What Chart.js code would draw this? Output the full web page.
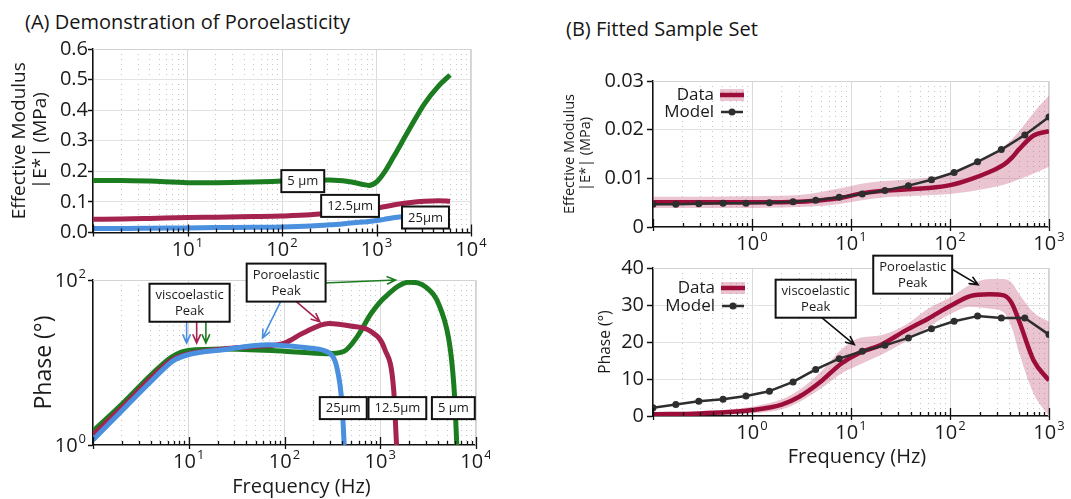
<!DOCTYPE html>
<html>
<head>
<meta charset="utf-8">
<script src="https://cdn.jsdelivr.net/npm/chart.js@4.4.1/dist/chart.umd.min.js"></script>
<style>
  body { margin: 0; background: #fff; font-family: "Open Sans", sans-serif; }
  #wrap { position: relative; width: 1071px; height: 499px; overflow: hidden; }
  canvas { position: absolute; }
  .head { position: absolute; font-size: 20px; line-height: 1; color: #151515; white-space: nowrap; }
</style>
</head>
<body>
<div id="wrap">
  <div class="head" style="left:25px; top:12px">(A) Demonstration of Poroelasticity</div>
  <div class="head" style="left:566px; top:19px">(B) Fitted Sample Set</div>
  <canvas id="modA" width="490" height="262" style="left:0; top:0"></canvas>
  <canvas id="phaseA" width="490" height="249" style="left:0; top:250px"></canvas>
  <canvas id="modB" width="531" height="262" style="left:540px; top:0"></canvas>
  <canvas id="phaseB" width="531" height="254" style="left:540px; top:245px"></canvas>
</div>
<script>
// ---- panel A : modulus vs frequency for three pore sizes
const freqModA    = [1, 2, 4, 10, 20, 50, 100, 200, 320, 500, 700, 830, 1000, 1200, 1500, 2200, 3200, 4500, 6000];
const modulus5um  = [0.170, 0.170, 0.168, 0.163, 0.163, 0.165, 0.168, 0.171, 0.172, 0.167, 0.158, 0.154, 0.165, 0.195, 0.245, 0.335, 0.420, 0.478, 0.515];
const modulus12um = [0.043, 0.044, 0.046, 0.049, 0.050, 0.052, 0.054, 0.058, 0.064, 0.070, 0.075, 0.077, 0.080, 0.084, 0.090, 0.097, 0.102, 0.104, 0.102];
const modulus25um = [0.013, 0.013, 0.014, 0.015, 0.016, 0.017, 0.018, 0.021, 0.025, 0.030, 0.034, 0.036, 0.039, 0.043, 0.048, 0.054, 0.060, 0.065, 0.068];

// ---- panel A : phase (log axis)
const freqPhase5um  = [1, 2.1, 4.1, 6.8, 10, 23, 100, 275, 420, 575, 800, 1120, 2000, 3000, 4200, 5400, 6000, 6300];
const phase5um      = [1.47, 3.3, 7.2, 11.9, 14.0, 14.6, 13.7, 12.8, 13.7, 20.6, 39, 62, 94, 82, 47, 14.3, 3.6, 1];
const freqPhase12um = [1, 2.1, 4.1, 6.8, 10, 23, 52, 100, 155, 290, 490, 800, 1120, 1380, 1480];
const phase12um     = [1.32, 3.0, 6.6, 10.9, 12.8, 14.6, 15.7, 17.2, 22.6, 29.8, 27.7, 23.7, 14.3, 4.75, 1];
const freqPhase25um = [1, 2.1, 4.1, 6.8, 10, 23, 68, 100, 182, 300, 350, 400, 420];
const phase25um     = [1.15, 2.75, 6.0, 10.4, 12.5, 14.3, 16.4, 16.0, 15.0, 12.8, 9, 3, 1];

// ---- panel B : fitted sample
const freqModel    = [0.1, 0.17, 0.29, 0.51, 0.87, 1.5, 2.6, 4.4, 7.6, 13, 22, 38, 65, 110, 190, 330, 570, 1000];
const modelModulus = [0.0047, 0.0047, 0.0048, 0.0049, 0.0049, 0.0050, 0.0052, 0.0055, 0.0061, 0.0068, 0.0075, 0.0085, 0.0097, 0.0112, 0.0134, 0.0159, 0.0189, 0.0226];
const modelPhase   = [2.2, 3.1, 4.0, 4.5, 5.4, 6.7, 9.2, 12.6, 15.5, 17.5, 19.1, 21.1, 23.6, 25.6, 27.0, 26.5, 26.5, 22.0];

const freqData      = [0.1, 0.3, 1, 2, 3, 5, 8, 12, 20, 35, 60, 100, 160, 250, 350, 420, 500, 700, 1000];
const dataModulus   = [0.0051, 0.0051, 0.0051, 0.0051, 0.0052, 0.0055, 0.0060, 0.0068, 0.0074, 0.0077, 0.0080, 0.0086, 0.0098, 0.0113, 0.0128, 0.0142, 0.0160, 0.0188, 0.0197];
const dataModulusHi = [0.0062, 0.0062, 0.0063, 0.0064, 0.0066, 0.0072, 0.0080, 0.0088, 0.0094, 0.0097, 0.0101, 0.0110, 0.0125, 0.0145, 0.0165, 0.0180, 0.0197, 0.0235, 0.0270];
const dataModulusLo = [0.0039, 0.0039, 0.0039, 0.0040, 0.0041, 0.0043, 0.0048, 0.0054, 0.0060, 0.0063, 0.0065, 0.0068, 0.0073, 0.0080, 0.0087, 0.0092, 0.0098, 0.0110, 0.0124];
const dataPhase     = [0.45, 0.7, 1.6, 3.1, 5.2, 9.4, 14.2, 17.0, 19.2, 23.0, 26.3, 29.7, 32.4, 32.9, 32.6, 30.5, 25.6, 15.0, 9.6];
const dataPhaseHi   = [1.0, 1.3, 2.5, 4.5, 7.0, 12.0, 18.0, 21.0, 21.8, 24.5, 29.0, 32.0, 35.5, 37.0, 37.0, 36.0, 33.0, 28.0, 25.5];
const dataPhaseLo   = [0, 0.2, 0.7, 1.8, 3.8, 7.5, 11.5, 13.8, 16.5, 20.0, 24.0, 27.5, 29.5, 29.0, 28.0, 24.0, 17.0, 6.0, 0];

// decade labels (exponents) shown on the axes
const xExpA = [1, 2, 3, 4];
const xExpB = [0, 1, 2, 3];
const yExpPhaseA = [0, 2];

const FONT = '"Open Sans", sans-serif';
const INK = '#1a1a1a';
const GREEN = '#1b7d1f', CRIMSON = '#a5234f', BLUE = '#4a90df';
const MAROON = '#9c0d3a', MODEL = '#2e2e2e', BAND = 'rgba(190,70,110,0.32)';

Chart.defaults.font.family = FONT;
Chart.defaults.color = INK;

const pts = (xs, ys) => xs.map((x, i) => ({x: x, y: ys[i]}));
const isDecade = v => Math.abs(Math.log10(v) - Math.round(Math.log10(v))) < 1e-6;
const mant = v => v / Math.pow(10, Math.floor(Math.log10(v) + 1e-9));
const isWhole = m => Math.abs(m - Math.round(m)) < 1e-6;

function logGridColor(ctx) {
  if (!ctx.tick) return 'rgba(0,0,0,0)';
  const v = ctx.tick.value;
  if (isDecade(v)) return '#dadada';
  return isWhole(mant(v)) ? '#c4c4c4' : 'rgba(0,0,0,0)';
}
function logGridDash(ctx) {
  if (!ctx.tick) return [];
  return isDecade(ctx.tick.value) ? [] : [1, 4];
}

function curve(xs, ys, color, width) {
  return {
    data: pts(xs, ys), borderColor: color, borderWidth: width,
    pointRadius: 0, fill: false, cubicInterpolationMode: 'monotone',
    borderCapStyle: 'butt', borderJoinStyle: 'round'
  };
}

function drawPow(c, exp, x, y, align) {
  c.save();
  c.fillStyle = INK;
  c.textAlign = 'left';
  c.textBaseline = 'alphabetic';
  c.font = '20px ' + FONT;
  const wb = c.measureText('10').width;
  c.font = '13px ' + FONT;
  const ws = c.measureText(String(exp)).width;
  const w = wb + ws + 1;
  const x0 = align === 'right' ? x - w : x - w / 2;
  c.font = '20px ' + FONT;
  c.fillText('10', x0, y + 7);
  c.font = '13px ' + FONT;
  c.fillText(String(exp), x0 + wb + 1, y - 2);
  c.restore();
}

function drawArrow(c, x1, y1, x2, y2, color) {
  const ang = Math.atan2(y2 - y1, x2 - x1), L = 9, spread = 0.42;
  c.save();
  c.strokeStyle = color;
  c.lineWidth = 1.6;
  c.lineCap = 'round';
  c.beginPath();
  c.moveTo(x1, y1);
  c.lineTo(x2, y2);
  c.moveTo(x2 - L * Math.cos(ang - spread), y2 - L * Math.sin(ang - spread));
  c.lineTo(x2, y2);
  c.lineTo(x2 - L * Math.cos(ang + spread), y2 - L * Math.sin(ang + spread));
  c.stroke();
  c.restore();
}

function drawBox(c, cx, cy, lines) {
  c.save();
  c.font = '13px ' + FONT;
  const tw = Math.max(...lines.map(s => c.measureText(s).width));
  const w = tw + 12, h = lines.length * 16 + 6;
  c.fillStyle = '#fff';
  c.fillRect(cx - w / 2, cy - h / 2, w, h);
  c.strokeStyle = '#111';
  c.lineWidth = 2;
  c.strokeRect(cx - w / 2, cy - h / 2, w, h);
  c.fillStyle = INK;
  c.textAlign = 'center';
  c.textBaseline = 'middle';
  lines.forEach((s, i) => c.fillText(s, cx, cy - (lines.length - 1) * 8 + i * 16 + 0.5));
  c.restore();
}

function drawLegend(c, a, lg) {
  const xr = a.left + lg.dx;
  const y1 = a.top + lg.dy1, y2 = a.top + lg.dy2;
  c.save();
  c.font = '17px ' + FONT;
  c.fillStyle = INK;
  c.textAlign = 'right';
  c.textBaseline = 'middle';
  c.fillText('Data', xr, y1);
  c.fillText('Model', xr, y2);
  c.fillStyle = BAND;
  c.fillRect(xr + 6, y1 - 6, 24, 12);
  c.strokeStyle = MAROON;
  c.lineWidth = 4.5;
  c.beginPath(); c.moveTo(xr + 6, y1); c.lineTo(xr + 30, y1); c.stroke();
  c.strokeStyle = MODEL;
  c.lineWidth = 2.5;
  c.beginPath(); c.moveTo(xr + 7, y2); c.lineTo(xr + 29, y2); c.stroke();
  c.fillStyle = MODEL;
  c.beginPath(); c.arc(xr + 18, y2, 3.5, 0, Math.PI * 2); c.fill();
  c.restore();
}

const panelDecor = {
  id: 'panelDecor',
  beforeDatasetsDraw(chart) {
    const c = chart.ctx, a = chart.chartArea;
    c.save();
    c.strokeStyle = '#d2d2d2';
    c.lineWidth = 1;
    c.beginPath();
    c.moveTo(a.left, a.top + 0.5);
    c.lineTo(a.right - 0.5, a.top + 0.5);
    c.lineTo(a.right - 0.5, a.bottom);
    c.stroke();
    c.restore();
  },
  afterDatasetsDraw(chart, args, opts) {
    const c = chart.ctx, sx = chart.scales.x, sy = chart.scales.y;
    (opts.arrows || []).forEach(ar => drawArrow(c,
      sx.getPixelForValue(ar.from[0]), sy.getPixelForValue(ar.from[1]),
      sx.getPixelForValue(ar.to[0]), sy.getPixelForValue(ar.to[1]), ar.color));
    (opts.boxes || []).forEach(b => drawBox(c, sx.getPixelForValue(b.x), sy.getPixelForValue(b.y), b.text));
    if (opts.legend) drawLegend(c, chart.chartArea, opts.legend);
  },
  afterDraw(chart, args, opts) {
    const c = chart.ctx, a = chart.chartArea, sx = chart.scales.x, sy = chart.scales.y;
    // inward tick marks on the log x axis
    c.save();
    c.strokeStyle = '#111';
    c.lineWidth = 1.3;
    c.beginPath();
    sx.ticks.forEach(t => {
      const v = t.value;
      if (!isWhole(mant(v))) return;
      const px = Math.round(sx.getPixelForValue(v)) + 0.5;
      if (isDecade(v)) { c.moveTo(px, a.bottom + 4); c.lineTo(px, a.bottom - 8); }
      else { c.moveTo(px, a.bottom); c.lineTo(px, a.bottom - 4); }
    });
    c.stroke();
    c.restore();
    (opts.xExp || []).forEach(e => drawPow(c, e, sx.getPixelForValue(Math.pow(10, e)), a.bottom + 16, 'center'));
    (opts.yExp || []).forEach(e => drawPow(c, e, a.left - 7, sy.getPixelForValue(Math.pow(10, e)), 'right'));
    if (opts.xTitle) {
      c.save();
      c.font = '20px ' + FONT;
      c.fillStyle = INK;
      c.textAlign = 'center';
      c.textBaseline = 'middle';
      c.fillText(opts.xTitle.text, (a.left + a.right) / 2 + opts.xTitle.dx, a.bottom + opts.xTitle.dy);
      c.restore();
    }
  }
};

function logX(min, max, height) {
  return {
    type: 'logarithmic', min: min, max: max,
    ticks: {display: false, autoSkip: false},
    grid: {color: logGridColor, lineWidth: 1, drawTicks: false},
    border: {color: '#111', width: 1.5, dash: logGridDash},
    afterFit: s => { s.height = height; }
  };
}

function linY(min, max, step, width, fmt, title, titleSize, titlePad, labelPad, tickLen) {
  return {
    min: min, max: max,
    ticks: {stepSize: step, font: {size: 20}, color: INK, padding: labelPad, callback: fmt},
    grid: {color: '#e3e3e3', tickColor: '#111', tickLength: tickLen, tickWidth: 1.5},
    border: {color: '#111', width: 1.5},
    title: {display: true, text: title, color: INK, font: {size: titleSize, lineHeight: 1.1}, padding: {top: titlePad, bottom: 0}},
    afterFit: s => { s.width = width; }
  };
}

function makeChart(id, cfg) {
  return new Chart(document.getElementById(id), {
    type: 'line',
    data: {datasets: cfg.datasets},
    options: {
      responsive: false,
      animation: false,
      events: [],
      layout: {padding: cfg.padding},
      plugins: {legend: {display: false}, tooltip: {enabled: false}, panelDecor: cfg.decor},
      scales: {x: cfg.x, y: cfg.y}
    },
    plugins: [panelDecor]
  });
}

// (A) modulus
makeChart('modA', {
  padding: {top: 49, right: 19, bottom: 0, left: 0},
  datasets: [
    curve(freqModA, modulus25um, BLUE, 5),
    curve(freqModA, modulus12um, CRIMSON, 5),
    curve(freqModA, modulus5um, GREEN, 5)
  ],
  x: logX(1, 10000, 29.5),
  y: linY(0, 0.6, 0.1, 93, v => v.toFixed(1), ['Effective Modulus', '|E*| (MPa)'], 19, 9, 0, 5),
  decor: {
    xExp: xExpA,
    boxes: [
      {x: 166, y: 0.168, text: ['5 µm']},
      {x: 525, y: 0.087, text: ['12.5µm']},
      {x: 3300, y: 0.049, text: ['25µm']}
    ]
  }
});

// (A) phase
const phaseAY = {
  type: 'logarithmic', min: 1, max: 100,
  ticks: {display: false, autoSkip: false},
  grid: {
    color: 'rgba(0,0,0,0)', tickLength: 5, tickWidth: 1.5,
    tickColor: ctx => (ctx.tick && (ctx.tick.value === 1 || ctx.tick.value === 100)) ? '#111' : 'rgba(0,0,0,0)'
  },
  border: {color: '#111', width: 1.5},
  title: {display: true, text: 'Phase (°)', color: INK, font: {size: 23, lineHeight: 1.2}, padding: {top: 31, bottom: 0}},
  afterFit: s => { s.width = 93; }
};
makeChart('phaseA', {
  padding: {top: 30, right: 14, bottom: 0, left: 0},
  datasets: [
    curve(freqPhase25um, phase25um, BLUE, 5),
    curve(freqPhase12um, phase12um, CRIMSON, 5),
    curve(freqPhase5um, phase5um, GREEN, 5)
  ],
  x: logX(1, 10000, 54),
  y: phaseAY,
  decor: {
    xExp: xExpA,
    yExp: yExpPhaseA,
    xTitle: {text: 'Frequency (Hz)', dx: 17, dy: 42},
    arrows: [
      {from: [9.5, 31], to: [9.5, 17.2], color: BLUE},
      {from: [12.1, 31], to: [12.1, 17.2], color: CRIMSON},
      {from: [15.1, 31], to: [15.1, 17.2], color: GREEN},
      {from: [257, 92], to: [1445, 100], color: GREEN},
      {from: [133, 54.6], to: [234, 31.2], color: CRIMSON},
      {from: [93, 57.3], to: [59, 19.8], color: BLUE}
    ],
    boxes: [
      {x: 10.2, y: 53, text: ['viscoelastic', 'Peak']},
      {x: 104, y: 93, text: ['Poroelastic', 'Peak']},
      {x: 411, y: 2.8, text: ['25µm']},
      {x: 1510, y: 2.8, text: ['12.5µm']},
      {x: 5800, y: 2.8, text: ['5 µm']}
    ]
  }
});

// (B) modulus
makeChart('modB', {
  padding: {top: 81, right: 22, bottom: 0, left: 0},
  datasets: [
    Object.assign(curve(freqModel, modelModulus, MODEL, 2.5), {pointRadius: 3.5, pointBackgroundColor: MODEL, pointBorderWidth: 0, cubicInterpolationMode: 'default', tension: 0}),
    curve(freqData, dataModulus, MAROON, 4.5),
    Object.assign(curve(freqData, dataModulusHi, 'rgba(0,0,0,0)', 0), {fill: '+1', backgroundColor: BAND}),
    curve(freqData, dataModulusLo, 'rgba(0,0,0,0)', 0)
  ],
  x: logX(0.1, 1000, 35),
  y: linY(0, 0.03, 0.01, 113, v => v === 0 ? '0' : v.toFixed(2), ['Effective Modulus', '|E*| (MPa)'], 14.5, 22, 3, 6),
  decor: {
    xExp: xExpB,
    legend: {dx: 61, dy1: 14, dy2: 31}
  }
});

// (B) phase
makeChart('phaseB', {
  padding: {top: 23, right: 22, bottom: 30, left: 0},
  datasets: [
    Object.assign(curve(freqModel, modelPhase, MODEL, 2.5), {pointRadius: 3.5, pointBackgroundColor: MODEL, pointBorderWidth: 0, cubicInterpolationMode: 'default', tension: 0}),
    curve(freqData, dataPhase, MAROON, 4.5),
    Object.assign(curve(freqData, dataPhaseHi, 'rgba(0,0,0,0)', 0), {fill: '+1', backgroundColor: BAND}),
    curve(freqData, dataPhaseLo, 'rgba(0,0,0,0)', 0)
  ],
  x: logX(0.1, 1000, 53),
  y: linY(0, 40, 10, 113, v => String(v), 'Phase (°)', 15.5, 57, 3, 6),
  decor: {
    xExp: xExpB,
    xTitle: {text: 'Frequency (Hz)', dx: 6, dy: 41},
    legend: {dx: 62, dy1: 20, dy2: 38},
    arrows: [
      {from: [5.1, 26.5], to: [10.8, 19.3], color: '#111'},
      {from: [106, 39.6], to: [192, 35.5], color: '#111'}
    ],
    boxes: [
      {x: 4.4, y: 31.7, text: ['viscoelastic', 'Peak']},
      {x: 42, y: 38.2, text: ['Poroelastic', 'Peak']}
    ]
  }
});
</script>
</body>
</html>
